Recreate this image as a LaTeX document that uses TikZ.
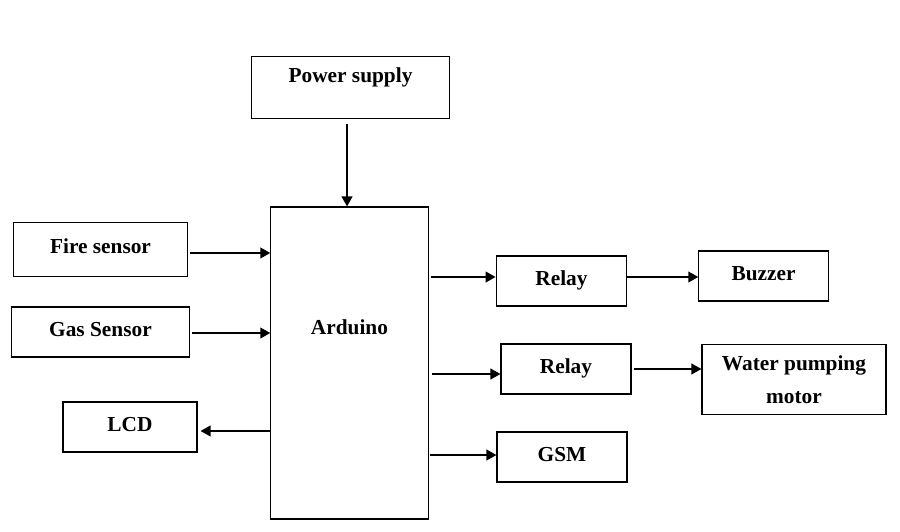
\documentclass[tikz,border=0pt]{standalone}
\usepackage{fontspec}
\setmainfont{Liberation Serif}
\usepackage{tikz}
\usetikzlibrary{arrows.meta,calc,positioning}

\tikzset{
  blk/.style={draw,line width=0.8pt,font=\fontsize{16}{25}\selectfont\bfseries,
    inner sep=0pt,align=center,text height=11pt,text depth=5pt},
  arr/.style={line width=1.4pt,-{Triangle[length=7.5pt,width=8pt]}}
}

\begin{document}
\begin{tikzpicture}[x=0.75pt,y=-0.75pt]
  \useasboundingbox (0,0) rectangle (900,532);
  % blocks
  \node[blk,minimum width=149pt,minimum height=47pt,text depth=17.8pt] (pwr) at (350.5,87.5) {Power supply};
  \node[blk,minimum width=118pt,minimum height=234pt,text depth=54.5pt] (ard) at (349.5,363) {Arduino};
  \node[blk,minimum width=130pt,minimum height=41pt] (fire) at (100.5,249.5) {Fire sensor};
  \node[blk,minimum width=133pt,minimum height=37.5pt] (gas) at (100.5,332) {Gas Sensor};
  \node[blk,minimum width=100.5pt,minimum height=37.5pt] (lcd) at (130,427) {LCD};
  \node[blk,minimum width=98pt,minimum height=37.5pt] (rly1) at (561.5,281) {Relay};
  \node[blk,minimum width=97pt,minimum height=37.5pt] (buz) at (763.5,276) {Buzzer};
  \node[blk,minimum width=97.5pt,minimum height=37.5pt] (rly2) at (566,369) {Relay};
  \node[blk,minimum width=138pt,minimum height=53pt,text height=,text depth=] (pump) at (794,379.5) {Water pumping\\motor};
  \node[blk,minimum width=97.5pt,minimum height=37.5pt] (gsm) at (562,457) {GSM};
  % connections
  \draw[arr,shorten <=3.75pt] ([xshift=-2.6pt]pwr.south) -- ([xshift=-2.6pt]pwr.south |- ard.north);
  \draw[arr,shorten <=1.5pt] ([yshift=-2.6pt]fire.east) -- ([yshift=-2.6pt]fire.east -| ard.west);
  \draw[arr,shorten <=1.5pt] ([yshift=-0.75pt]gas.east) -- ([yshift=-0.75pt]gas.east -| ard.west);
  \draw[arr,shorten >=2.25pt] ([yshift=-3pt]lcd.east -| ard.west) -- ([yshift=-3pt]lcd.east);
  \draw[arr,shorten <=1.5pt] ([yshift=3pt]rly1.west -| ard.east) -- ([yshift=3pt]rly1.west);
  \draw[arr] ([yshift=3pt]rly1.east) -- ([yshift=3pt]rly1.east -| buz.west);
  \draw[arr,shorten <=2.25pt] ([yshift=-3.75pt]rly2.west -| ard.east) -- ([yshift=-3.75pt]rly2.west);
  \draw[arr,shorten <=1.5pt] (rly2.east) -- (rly2.east -| pump.west);
  \draw[arr,shorten <=0.75pt] ([yshift=1.5pt]gsm.west -| ard.east) -- ([yshift=1.5pt]gsm.west);
\end{tikzpicture}
\end{document}
